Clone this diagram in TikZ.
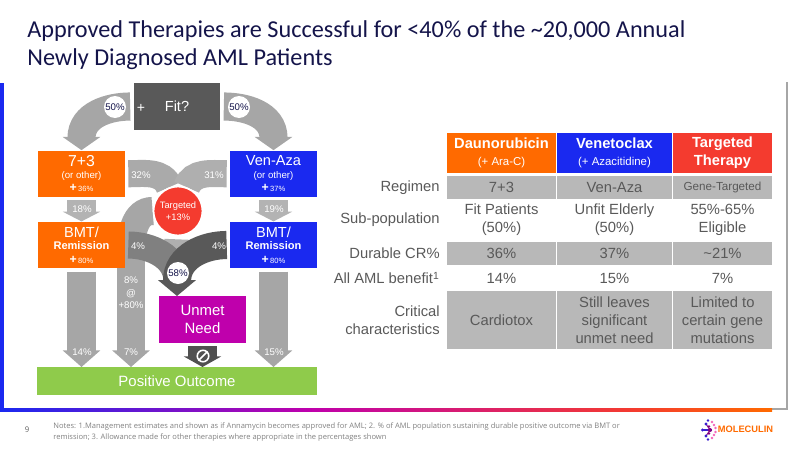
\documentclass[tikz,border=0pt]{standalone}
\usepackage{fontspec}
\usetikzlibrary{arrows.meta, backgrounds}
\setmainfont{Liberation Sans}
\newfontfamily\titlefont{Carlito}
\newfontfamily\notefont{Open Sans}

\definecolor{navy}{HTML}{14144A}
\definecolor{boxorange}{HTML}{FF6A00}
\definecolor{boxblue}{HTML}{1A29F0}
\definecolor{boxred}{HTML}{F43B2F}
\definecolor{boxpurple}{HTML}{BF00AC}
\definecolor{boxgreen}{HTML}{8FCB4B}
\definecolor{boxdark}{HTML}{595959}
\definecolor{arrowgray}{HTML}{A6A6A6}
\definecolor{cellgray}{HTML}{B8B8B8}
\definecolor{textgray}{HTML}{595959}

\pgfdeclarehorizontalshading{railshade}{100bp}{
    color(0bp)=(boxblue); color(25bp)=(boxblue); color(45bp)=(boxpurple);
    color(66bp)=(boxred); color(75bp)=(boxorange); color(100bp)=(boxorange)}

\tikzset{
    flowbox/.style={inner sep=0, minimum width=1.74cm, minimum height=0.93cm, text=white, align=center, font=\fontsize{8.3}{7}\selectfont},
    blockarrow/.style={draw=arrowgray, line width=16pt, shorten <=1.7pt, -{Triangle[width=21pt, length=#1]}},
    blockarrow/.default=7.5pt,
    band/.style={draw=arrowgray, line width=15.4pt, shorten <=1.7pt},
    pct/.style={inner sep=0, text=white, font=\fontsize{5.5}{6.5}\selectfont},
    badge/.style={circle, fill=white, inner sep=0, minimum size=0.44cm, text=navy, font=\fontsize{5.5}{6.5}\selectfont},
    cell/.style={inner sep=0, align=center, text=textgray, font=\fontsize{8.4}{10.4}\selectfont},
    colA/.style={cell, minimum width=2.18cm},
    colB/.style={cell, minimum width=2.3cm},
    colC/.style={cell, minimum width=1.98cm},
    rowlabel/.style={inner sep=0, anchor=east, align=right, text=textgray, font=\fontsize{8.4}{10.4}\selectfont},
    headcell/.style={text=white, font=\fontsize{8.35}{10.4}\selectfont\bfseries, minimum height=0.8cm}
}

\newcommand{\smalltext}{\fontsize{5.5}{7}\selectfont}
\newcommand{\tinytext}{\fontsize{4.3}{6}\selectfont\mdseries}
\newcommand{\plustext}{\fontsize{7}{7}\selectfont\bfseries +}

\begin{document}
\begin{tikzpicture}[x=0.02cm, y=-0.02cm]
    \useasboundingbox (0, 0) rectangle (800, 450);

    % frame
    \fill[boxblue] (0, 83) rectangle (4, 408);
    \fill[arrowgray] (786, 82) rectangle (788, 410);
    \fill[arrowgray] (772, 408) rectangle (788, 410);
    \shade[shading=railshade] (0, 408) rectangle (772, 411);

    % title and notes
    \node[anchor=north west, inner sep=0, align=left, text=navy, font=\fontsize{13.8}{15.9}\selectfont\titlefont] at (27, 20) (title) {Approved Therapies are Successful for <40\% of the \textasciitilde 20,000 Annual\\Newly Diagnosed AML Patients};
    \node[inner sep=0, text=textgray, font=\fontsize{4.4}{5}\selectfont\notefont] at (27, 430) (pagenum) {9};
    \node[anchor=west, inner sep=0, align=left, text=gray, font=\fontsize{4.3}{6.8}\selectfont\notefont] at (53, 432) (notes) {Notes: 1.Management estimates and shown as if Annamycin becomes approved for AML; 2. \% of AML population sustaining durable positive outcome via BMT or\\remission; 3. Allowance made for other therapies where appropriate in the percentages shown};

    % flow boxes
    \node[flowbox, fill=boxdark, minimum height=0.94cm] at (177, 106.5) (fit) {Fit?};
    \node[flowbox, fill=boxorange] at (81.5, 173.75) (sevenbox) {\fontsize{9}{7}\selectfont 7+3\\\smalltext (or other)\\[0.5pt]\plustext\tinytext\,36\%};
    \node[flowbox, fill=boxblue] at (273.5, 173.75) (venbox) {Ven-Aza\\\smalltext (or other)\\[0.5pt]\plustext\tinytext\,37\%};
    \node[flowbox, fill=boxorange] at (81.5, 245) (bmtA) {BMT/\\\fontsize{6.3}{7}\selectfont\bfseries Remission\\[1pt]\plustext\tinytext\,80\%};
    \node[flowbox, fill=boxblue] at (273.5, 245) (bmtB) {BMT/\\\fontsize{6.3}{7}\selectfont\bfseries Remission\\[1pt]\plustext\tinytext\,80\%};
    \node[flowbox, fill=boxpurple, font=\fontsize{8.5}{10.4}\selectfont] at (202.5, 319.5) (unmet) {Unmet\\Need};
    \node[flowbox, fill=boxgreen, minimum width=5.6cm, minimum height=0.56cm, font=\fontsize{8.5}{10}\selectfont] at (177, 381) (outcome) {Positive Outcome};
    \node[circle, fill=boxred, draw=white, line width=1pt, inner sep=0, minimum size=0.98cm, align=center, text=white, font=\fontsize{5.3}{6.8}\selectfont] at (178, 211) (targeted) {Targeted\\+13\%};

    \coordinate (bendA) at (81.5, 138);
    \coordinate (bendB) at (273.5, 138);
    \coordinate (midbend) at (131, 252);
    \coordinate (needbend) at (177, 281);
    \coordinate (outA) at (81.5, 367);
    \coordinate (outB) at (131, 367);
    \coordinate (outC) at (273.5, 367);
    \coordinate (outD) at (202.5, 367);
    \coordinate (needin) at (177, 296);
    \coordinate (lowgap) at (177, 262);

    % block arrows stay behind the boxes
    \begin{scope}[on background layer]
        \draw[blockarrow] (fit.west) to[out=180, in=90] (bendA) -- (sevenbox.north);
        \draw[blockarrow] (fit.east) to[out=0, in=90] (bendB) -- (venbox.north);
        \draw[blockarrow=5.5pt, draw=arrowgray!85] (sevenbox.south) -- (bmtA.north);
        \draw[blockarrow=5.5pt, draw=arrowgray!85] (venbox.south) -- (bmtB.north);
        \draw[band, draw=arrowgray!90] (targeted.south) -- (lowgap);
        \draw[band, draw=arrowgray!95] (sevenbox.east) to[out=0, in=110] (targeted);
        \draw[band, draw=arrowgray!90] (venbox.west) to[out=180, in=70] (targeted);
        \draw[blockarrow=9.5pt] (bmtA.south) -- (outA);
        \draw[blockarrow=9.5pt] (bmtB.south) -- (outC);
        \draw[band, line width=16pt, shorten <=0pt] (targeted.west) to[out=180, in=90] (midbend);
        \draw[blockarrow=9.5pt, shorten <=-1pt] (midbend) -- (outB);
        \draw[band, draw=gray] (bmtA.east) to[out=0, in=90] (needbend);
        \draw[blockarrow=9pt, draw=boxdark] (bmtB.west) to[out=180, in=90] (needbend) -- (needin);
        \draw[blockarrow=6pt, draw=boxdark!90!black, line width=17pt] (unmet.south) -- (outD);
    \end{scope}

    % percentages
    \node[badge] at (115, 107) (splitA) {50\%};
    \node[badge] at (239, 107) (splitB) {50\%};
    \node[badge] at (178, 273) (unmetpct) {58\%};
    \node[pct, font=\fontsize{8}{8}\selectfont] at (141, 108) (fitplus) {+};
    \node[pct] at (141, 175) (bandA) {32\%};
    \node[pct] at (214, 175) (bandB) {31\%};
    \node[pct] at (138, 246) (bandC) {4\%};
    \node[pct] at (219, 246) (bandD) {4\%};
    \node[pct] at (82, 209) (stepA) {18\%};
    \node[pct] at (274, 209) (stepB) {19\%};
    \node[pct] at (82, 352) (gainA) {14\%};
    \node[pct] at (131, 352) (gainB) {7\%};
    \node[pct] at (274, 352) (gainC) {15\%};
    \node[pct, align=center, font=\fontsize{5.5}{7.2}\selectfont] at (131, 293) (gainD) {8\%\\@\\+80\%};

    % no entry sign
    \node[circle, draw=white, line width=0.9pt, inner sep=0, minimum size=0.23cm] at (203, 356) (nosign) {};
    \draw[white, line width=0.9pt] (nosign.south west) -- (nosign.north east);

    % table header
    \node[colA, headcell, fill=boxorange] at (501.5, 153) (headA) {Daunorubicin\\[-1pt]\fontsize{6.5}{8}\selectfont\mdseries (+ Ara-C)};
    \node[colB, headcell, fill=boxblue] at (614.5, 153) (headB) {Venetoclax\\[-1pt]\fontsize{6.5}{8}\selectfont\mdseries (+ Azacitidine)};
    \node[colC, headcell, fill=boxred] at (722.5, 153) (headC) {Targeted\\Therapy};

    % table rows
    \node[rowlabel] at (440, 187.5) (rowA) {Regimen};
    \node[colA, fill=cellgray, minimum height=0.46cm] at (501.5, 187.5) (regA) {7+3};
    \node[colB, fill=cellgray, minimum height=0.46cm] at (614.5, 187.5) (regB) {Ven-Aza};
    \node[colC, fill=cellgray, minimum height=0.46cm, font=\fontsize{6.65}{8}\selectfont] at (722.5, 187.5) (regC) {Gene-Targeted};

    \node[rowlabel] at (440, 220) (rowB) {Sub-population};
    \node[colA] at (501.5, 220) (subA) {Fit Patients\\(50\%)};
    \node[colB] at (614.5, 220) (subB) {Unfit Elderly\\(50\%)};
    \node[colC] at (722.5, 220) (subC) {55\%-65\%\\Eligible};

    \node[rowlabel] at (440, 253.5) (rowC) {Durable CR\%};
    \node[colA, fill=cellgray, minimum height=0.46cm] at (501.5, 253.5) (durA) {36\%};
    \node[colB, fill=cellgray, minimum height=0.46cm] at (614.5, 253.5) (durB) {37\%};
    \node[colC, fill=cellgray, minimum height=0.46cm] at (722.5, 253.5) (durC) {\textasciitilde 21\%};

    \node[rowlabel] at (440, 278) (rowD) {All AML benefit\textsuperscript{1}};
    \node[colA] at (501.5, 278) (allA) {14\%};
    \node[colB] at (614.5, 278) (allB) {15\%};
    \node[colC] at (722.5, 278) (allC) {7\%};

    \node[rowlabel] at (440, 320) (rowE) {Critical\\characteristics};
    \node[colA, fill=cellgray, minimum height=1.16cm] at (501.5, 320) (critA) {Cardiotox};
    \node[colB, fill=cellgray, minimum height=1.16cm] at (614.5, 320) (critB) {Still leaves\\significant\\unmet need};
    \node[colC, fill=cellgray, minimum height=1.16cm] at (722.5, 320) (critC) {Limited to\\certain gene\\mutations};

    % logo
    \node[inner sep=0, text=boxorange, font=\fontsize{5.3}{6}\selectfont\bfseries] at (745.5, 429.5) (logotext) {MOLECULIN};
    \draw[boxblue!70!violet, line width=0.6pt] (702, 430) -- (712, 430);
    \draw[violet, line width=0.5pt] (706, 424) -- (710, 430) -- (706, 436);
    \fill[boxblue!70!violet] (702.5, 430) circle (1.7) (706, 424) circle (1.6) (706, 436) circle (1.6) (708, 420.5) circle (1.4) (708, 439.5) circle (1.4);
    \fill[violet] (710, 430) circle (2) (709, 426.5) circle (1.4) (709, 433.5) circle (1.4);
    \fill[magenta!60] (712, 422) circle (1.4) (712, 438) circle (1.4) (714, 425) circle (1.4) (714, 435) circle (1.4) (715.5, 428) circle (1.3) (715.5, 432) circle (1.3);
\end{tikzpicture}
\end{document}
